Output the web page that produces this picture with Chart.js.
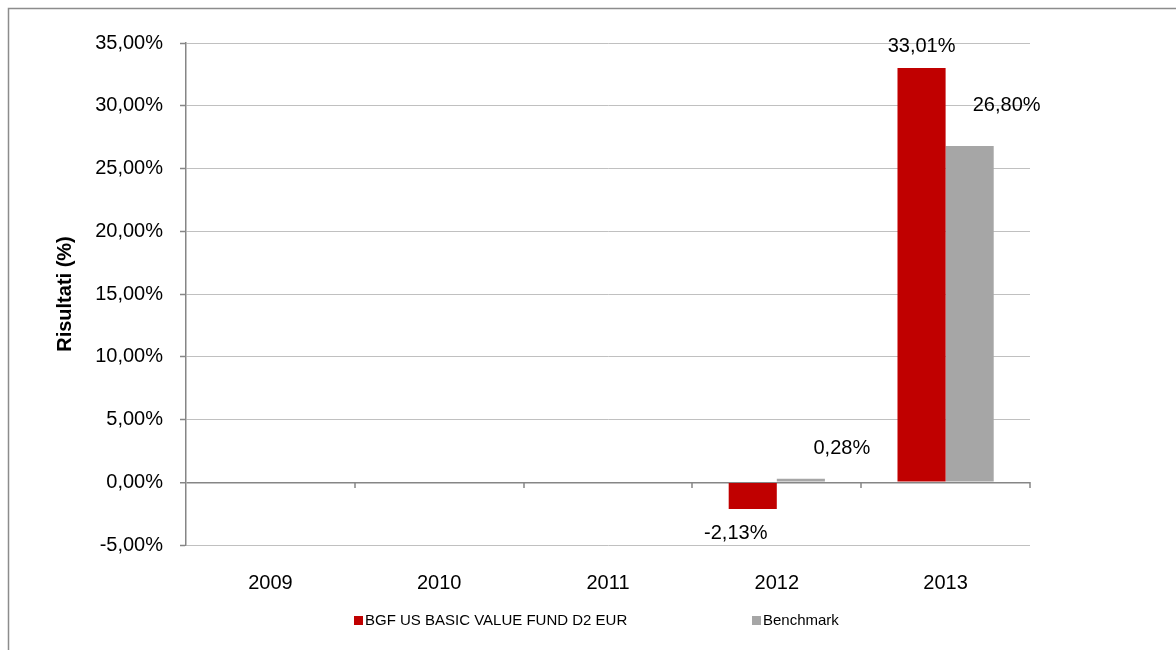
<!DOCTYPE html>
<html>
<head>
<meta charset="utf-8">
<script src="https://cdn.jsdelivr.net/npm/chart.js@4.4.2/dist/chart.umd.min.js"></script>
<style>
  html, body { margin: 0; padding: 0; background: #fff; }
  #wrap { position: relative; width: 1176px; height: 650px; }
</style>
</head>
<body>
<div id="wrap"><canvas id="chart"></canvas></div>
<script>
// ── Data ───────────────────────────────────────────────────
const years           = ['2009', '2010', '2011', '2012', '2013'];
const fundValues      = [null, null, null, -2.13, 33.01];
const benchmarkValues = [null, null, null, 0.28, 26.80];
const yTickValues     = [-5, 0, 5, 10, 15, 20, 25, 30, 35];

const FUND_LABEL  = 'BGF US BASIC VALUE FUND D2 EUR';
const BENCH_LABEL = 'Benchmark';

// label nudges (px) per dataset, per category — mimics hand-placed Excel labels
const LABEL_NUDGE = [
  { 3: [-17, 25], 4: [0, -21] },
  { 3: [41, -30], 4: [37, -40] },
];

const FONT = '"Liberation Sans", Arial, Helvetica, sans-serif';
const AXIS_GREY = '#868686';
const GRID_GREY = '#c0c0c0';

const pct = v => v.toFixed(2).replace('.', ',') + '%';

// ── Plugins ────────────────────────────────────────────────
const frame = {
  id: 'frame',
  beforeDraw(chart) {
    const ctx = chart.ctx;
    ctx.save();
    ctx.strokeStyle = '#8c8c8c';
    ctx.lineWidth = 1.5;
    ctx.strokeRect(8.5, 8.5, 1300, 800);
    ctx.restore();
  }
};

const zeroTicks = {
  id: 'zeroTicks',
  afterDraw(chart) {
    const xs = chart.scales.x, ys = chart.scales.y;
    const y0 = Math.round(ys.getPixelForValue(0));
    const ctx = chart.ctx;
    ctx.save();
    ctx.strokeStyle = AXIS_GREY;
    ctx.lineWidth = 1.5;
    ctx.beginPath();
    for (let i = 1; i <= years.length; i++) {
      const x = Math.round(xs.getPixelForValue(i - 0.5));
      ctx.moveTo(x, y0);
      ctx.lineTo(x, y0 + 6);
    }
    ctx.stroke();
    ctx.restore();
  }
};

const barLabels = {
  id: 'barLabels',
  afterDatasetsDraw(chart) {
    const ctx = chart.ctx;
    ctx.save();
    ctx.font = '20px ' + FONT;
    ctx.fillStyle = '#000';
    ctx.textAlign = 'center';
    ctx.textBaseline = 'middle';
    chart.data.datasets.forEach((ds, di) => {
      chart.getDatasetMeta(di).data.forEach((bar, i) => {
        const v = ds.data[i];
        if (v == null) return;
        const [dx, dy] = (LABEL_NUDGE[di] && LABEL_NUDGE[di][i]) || [0, v >= 0 ? -22 : 22];
        const edge = v >= 0 ? Math.min(bar.y, bar.base) : Math.max(bar.y, bar.base);
        ctx.fillText(pct(v), bar.x + dx, edge + dy);
      });
    });
    ctx.restore();
  }
};

// legend drawn by hand so the wide Excel spacing can be kept
const LEGEND_X = [354, 752];
const legendBoxes = {
  id: 'legendBoxes',
  afterDraw(chart) {
    const ctx = chart.ctx;
    ctx.save();
    ctx.font = '15px ' + FONT;
    ctx.textBaseline = 'middle';
    ctx.textAlign = 'left';
    chart.data.datasets.forEach((ds, i) => {
      const x = LEGEND_X[i], y = 621;
      ctx.fillStyle = ds.backgroundColor;
      ctx.fillRect(x, y - 5, 9, 9);
      ctx.fillStyle = '#000';
      ctx.fillText(ds.label, x + 11, y);
    });
    ctx.restore();
  }
};

// ── Chart ──────────────────────────────────────────────────
new Chart(document.getElementById('chart'), {
  type: 'bar',
  data: {
    labels: years,
    datasets: [
      { label: FUND_LABEL,  data: fundValues,      backgroundColor: '#c00000' },
      { label: BENCH_LABEL, data: benchmarkValues, backgroundColor: '#a6a6a6' },
    ],
  },
  options: {
    responsive: true,
    maintainAspectRatio: false,
    animation: false,
    datasets: { bar: { categoryPercentage: 0.57, barPercentage: 1.0 } },
    layout: { padding: { left: 0, top: 43, right: 146, bottom: 50 } },
    plugins: {
      legend: { display: false },
      tooltip: { enabled: false },
    },
    scales: {
      x: {
        grid: { display: false, drawTicks: false },
        border: { display: false },
        ticks: { color: '#000', padding: 26, font: { family: FONT, size: 20 } },
        afterFit: s => { s.height = 55; },
      },
      y: {
        min: -5,
        max: 35,
        afterBuildTicks: s => { s.ticks = yTickValues.map(v => ({ value: v })); },
        grid: {
          color: ctx => (ctx.tick && ctx.tick.value === 0 ? AXIS_GREY : GRID_GREY),
          lineWidth: ctx => (ctx.tick && ctx.tick.value === 0 ? 1.5 : 1),
          tickColor: AXIS_GREY,
          tickWidth: 1.5,
          tickLength: 6,
        },
        border: { display: true, color: AXIS_GREY, width: 1.5 },
        ticks: {
          color: '#000',
          padding: 17,
          font: { family: FONT, size: 20 },
          callback: v => pct(v),
        },
        title: {
          display: true,
          text: 'Risultati (%)',
          color: '#000',
          font: { family: FONT, size: 20, weight: 'bold' },
          padding: { top: 53, bottom: 0 },
        },
        afterFit: s => { s.width = 186; },
      },
    },
  },
  plugins: [frame, zeroTicks, barLabels, legendBoxes],
});
</script>
</body>
</html>
